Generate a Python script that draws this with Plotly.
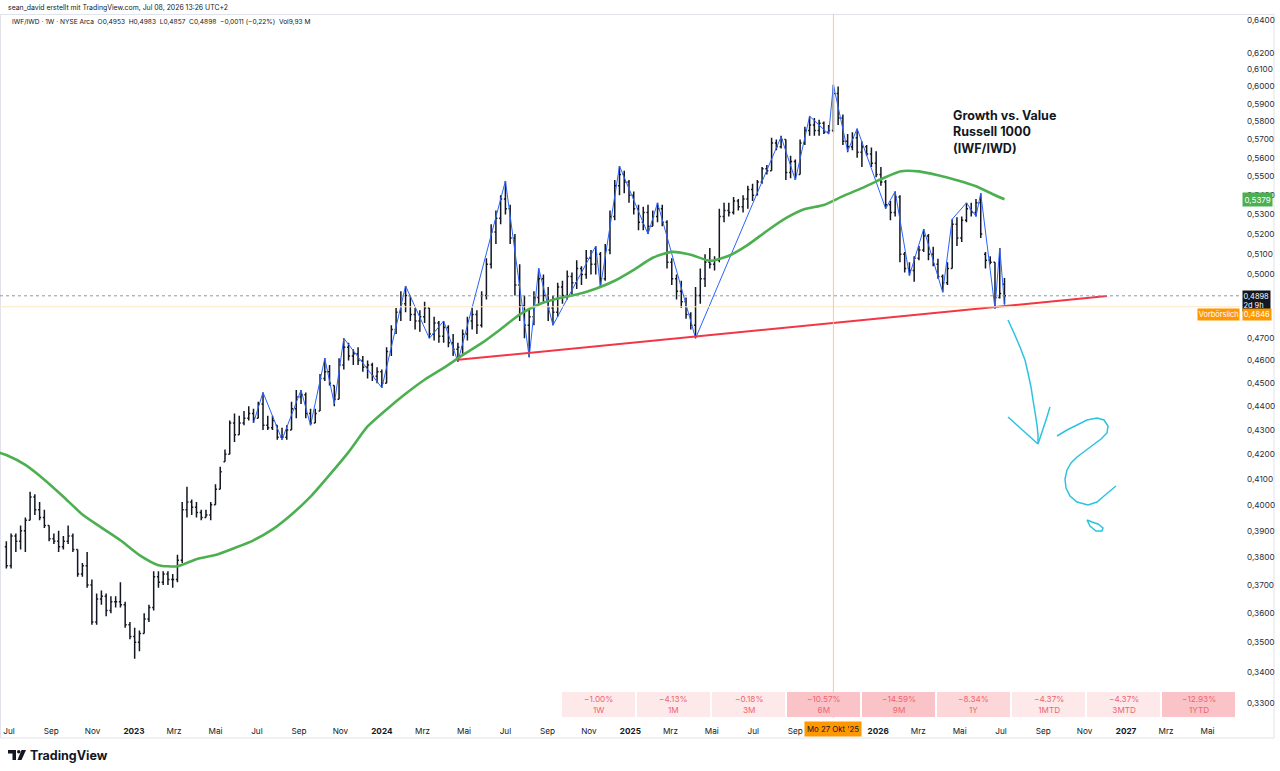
import math
import pandas as pd
import plotly.graph_objects as go

# ---------------- data (weekly IWF/IWD bars) ----------------
START_WEEK = "2022-06-27"

opens = [
    0.384, 0.377, 0.388, 0.386, 0.390, 0.394, 0.403, 0.398, 0.395, 0.392,
    0.387, 0.386, 0.384, 0.386, 0.388, 0.383, 0.374, 0.377, 0.370, 0.357,
    0.365, 0.366, 0.361, 0.364, 0.364, 0.363, 0.356, 0.352, 0.350, 0.353,
    0.358, 0.362, 0.373, 0.371, 0.374, 0.372, 0.372, 0.379, 0.398, 0.401,
    0.399, 0.397, 0.395, 0.396, 0.400, 0.406, 0.417, 0.420, 0.433, 0.428,
    0.433, 0.435, 0.437, 0.435, 0.441, 0.432, 0.431, 0.432, 0.427, 0.427,
    0.430, 0.439, 0.444, 0.445, 0.437, 0.433, 0.438, 0.452, 0.455, 0.449,
    0.443, 0.458, 0.466, 0.462, 0.463, 0.460, 0.457, 0.458, 0.453, 0.455,
    0.450, 0.464, 0.474, 0.482, 0.486, 0.490, 0.481, 0.478, 0.480, 0.484,
    0.472, 0.477, 0.471, 0.475, 0.468, 0.465, 0.466, 0.472, 0.478, 0.481,
    0.476, 0.490, 0.505, 0.521, 0.528, 0.538, 0.533, 0.518, 0.495, 0.485,
    0.476, 0.480, 0.489, 0.498, 0.490, 0.484, 0.482, 0.494, 0.490, 0.499,
    0.496, 0.503, 0.500, 0.508, 0.505, 0.510, 0.498, 0.512, 0.529, 0.545,
    0.551, 0.547, 0.540, 0.533, 0.526, 0.531, 0.524, 0.529, 0.533, 0.526,
    0.506, 0.498, 0.492, 0.487, 0.481, 0.476, 0.490, 0.498, 0.506, 0.505,
    0.507, 0.529, 0.532, 0.531, 0.537, 0.534, 0.538, 0.543, 0.540, 0.547,
    0.554, 0.553, 0.568, 0.566, 0.570, 0.552, 0.558, 0.551, 0.568, 0.575,
    0.578, 0.575, 0.579, 0.574, 0.575, 0.596, 0.582, 0.569, 0.566, 0.571,
    0.563, 0.566, 0.562, 0.557, 0.551, 0.547, 0.535, 0.531, 0.539, 0.510,
    0.503, 0.502, 0.508, 0.512, 0.519, 0.510, 0.505, 0.499, 0.496, 0.503,
    0.525, 0.518, 0.527, 0.533, 0.531, 0.536, 0.510, 0.507, 0.506, 0.489,
    0.4953,
]
highs = [
    0.386, 0.389, 0.389, 0.392, 0.395, 0.405, 0.404, 0.401, 0.398, 0.392,
    0.389, 0.390, 0.388, 0.392, 0.389, 0.383, 0.378, 0.382, 0.372, 0.367,
    0.368, 0.367, 0.366, 0.366, 0.371, 0.364, 0.357, 0.355, 0.354, 0.360,
    0.363, 0.375, 0.375, 0.375, 0.375, 0.374, 0.381, 0.401, 0.407, 0.402,
    0.401, 0.398, 0.398, 0.401, 0.408, 0.415, 0.422, 0.434, 0.437, 0.436,
    0.438, 0.440, 0.439, 0.442, 0.446, 0.436, 0.436, 0.432, 0.431, 0.432,
    0.442, 0.447, 0.447, 0.446, 0.439, 0.439, 0.454, 0.461, 0.458, 0.449,
    0.461, 0.470, 0.468, 0.465, 0.466, 0.462, 0.460, 0.459, 0.457, 0.456,
    0.466, 0.476, 0.484, 0.492, 0.4945, 0.490, 0.484, 0.483, 0.487, 0.484,
    0.480, 0.478, 0.478, 0.476, 0.472, 0.468, 0.474, 0.480, 0.484, 0.483,
    0.492, 0.508, 0.525, 0.532, 0.540, 0.5475, 0.535, 0.520, 0.505, 0.490,
    0.484, 0.492, 0.503, 0.500, 0.494, 0.490, 0.496, 0.497, 0.502, 0.501,
    0.507, 0.504, 0.512, 0.512, 0.514, 0.511, 0.515, 0.532, 0.548, 0.5555,
    0.553, 0.548, 0.542, 0.535, 0.534, 0.535, 0.532, 0.536, 0.535, 0.527,
    0.508, 0.500, 0.497, 0.489, 0.482, 0.494, 0.503, 0.510, 0.513, 0.509,
    0.533, 0.536, 0.536, 0.539, 0.538, 0.540, 0.545, 0.546, 0.548, 0.555,
    0.556, 0.571, 0.570, 0.572, 0.570, 0.561, 0.559, 0.570, 0.577, 0.583,
    0.582, 0.581, 0.580, 0.578, 0.601, 0.600, 0.584, 0.573, 0.574, 0.576,
    0.569, 0.567, 0.5655, 0.5635, 0.555, 0.548, 0.537, 0.542, 0.540, 0.511,
    0.506, 0.509, 0.514, 0.5226, 0.520, 0.5136, 0.5077, 0.500, 0.506, 0.5276,
    0.5286, 0.529, 0.536, 0.536, 0.538, 0.541, 0.511, 0.509, 0.506, 0.513,
    0.4983,
]
lows = [
    0.376, 0.376, 0.382, 0.383, 0.382, 0.394, 0.396, 0.394, 0.391, 0.386,
    0.385, 0.382, 0.383, 0.385, 0.382, 0.373, 0.373, 0.369, 0.356, 0.356,
    0.363, 0.359, 0.360, 0.362, 0.362, 0.355, 0.351, 0.3445, 0.347, 0.353,
    0.357, 0.361, 0.369, 0.370, 0.370, 0.369, 0.371, 0.378, 0.395, 0.396,
    0.395, 0.394, 0.395, 0.394, 0.400, 0.406, 0.417, 0.420, 0.425, 0.428,
    0.432, 0.434, 0.433, 0.435, 0.430, 0.430, 0.430, 0.426, 0.426, 0.426,
    0.430, 0.435, 0.441, 0.435, 0.432, 0.433, 0.438, 0.451, 0.449, 0.440,
    0.443, 0.456, 0.460, 0.458, 0.458, 0.455, 0.452, 0.451, 0.450, 0.448,
    0.450, 0.462, 0.472, 0.478, 0.482, 0.478, 0.474, 0.473, 0.477, 0.470,
    0.469, 0.468, 0.468, 0.466, 0.462, 0.4595, 0.463, 0.469, 0.474, 0.472,
    0.475, 0.488, 0.503, 0.515, 0.525, 0.530, 0.515, 0.490, 0.478, 0.470,
    0.4615, 0.476, 0.486, 0.487, 0.478, 0.476, 0.480, 0.486, 0.488, 0.490,
    0.493, 0.495, 0.498, 0.500, 0.500, 0.494, 0.497, 0.510, 0.527, 0.540,
    0.541, 0.536, 0.530, 0.522, 0.522, 0.520, 0.524, 0.526, 0.524, 0.503,
    0.495, 0.488, 0.484, 0.479, 0.474, 0.470, 0.486, 0.494, 0.503, 0.502,
    0.506, 0.526, 0.529, 0.530, 0.532, 0.531, 0.533, 0.537, 0.540, 0.546,
    0.551, 0.553, 0.564, 0.565, 0.548, 0.549, 0.548, 0.551, 0.567, 0.572,
    0.572, 0.572, 0.573, 0.573, 0.574, 0.578, 0.567, 0.563, 0.564, 0.560,
    0.555, 0.561, 0.555, 0.5495, 0.545, 0.533, 0.527, 0.529, 0.506, 0.501,
    0.4995, 0.4965, 0.507, 0.511, 0.507, 0.504, 0.498, 0.4915, 0.495, 0.503,
    0.514, 0.516, 0.526, 0.529, 0.529, 0.518, 0.503, 0.505, 0.4838, 0.4885,
    0.4857,
]
closes = [
    0.377, 0.388, 0.386, 0.390, 0.394, 0.403, 0.398, 0.395, 0.392, 0.387,
    0.386, 0.384, 0.386, 0.388, 0.383, 0.374, 0.377, 0.370, 0.357, 0.365,
    0.366, 0.361, 0.364, 0.364, 0.363, 0.356, 0.352, 0.350, 0.353, 0.358,
    0.362, 0.373, 0.371, 0.374, 0.372, 0.372, 0.379, 0.398, 0.401, 0.399,
    0.397, 0.395, 0.396, 0.400, 0.406, 0.413, 0.420, 0.433, 0.428, 0.433,
    0.435, 0.437, 0.435, 0.441, 0.432, 0.431, 0.434, 0.427, 0.427, 0.430,
    0.439, 0.444, 0.445, 0.437, 0.433, 0.437, 0.452, 0.455, 0.450, 0.443,
    0.458, 0.466, 0.462, 0.463, 0.460, 0.457, 0.458, 0.453, 0.455, 0.450,
    0.464, 0.474, 0.482, 0.486, 0.490, 0.481, 0.478, 0.480, 0.484, 0.472,
    0.477, 0.471, 0.475, 0.468, 0.465, 0.466, 0.472, 0.478, 0.481, 0.476,
    0.490, 0.505, 0.521, 0.528, 0.538, 0.533, 0.518, 0.495, 0.485, 0.476,
    0.480, 0.489, 0.498, 0.490, 0.484, 0.482, 0.494, 0.490, 0.499, 0.496,
    0.503, 0.500, 0.508, 0.505, 0.510, 0.498, 0.512, 0.529, 0.545, 0.551,
    0.547, 0.540, 0.533, 0.526, 0.531, 0.524, 0.529, 0.533, 0.526, 0.506,
    0.498, 0.492, 0.487, 0.481, 0.476, 0.490, 0.498, 0.506, 0.505, 0.507,
    0.529, 0.532, 0.531, 0.537, 0.534, 0.538, 0.543, 0.540, 0.547, 0.554,
    0.553, 0.568, 0.566, 0.570, 0.552, 0.558, 0.551, 0.568, 0.575, 0.578,
    0.575, 0.579, 0.574, 0.575, 0.596, 0.582, 0.569, 0.566, 0.571, 0.563,
    0.566, 0.562, 0.557, 0.551, 0.547, 0.535, 0.531, 0.539, 0.510, 0.503,
    0.502, 0.508, 0.512, 0.519, 0.510, 0.505, 0.499, 0.496, 0.503, 0.525,
    0.518, 0.527, 0.533, 0.531, 0.536, 0.520, 0.507, 0.506, 0.489, 0.4909,
    0.4898,
]

# green moving average (read at week offsets from START_WEEK)
ma_weeks = [-2, 0, 4, 8, 12, 16, 20, 24, 28, 32, 36, 40, 44, 48, 52, 56, 60, 64,
            68, 72, 76, 80, 84, 88, 92, 96, 100, 104, 108, 112, 116, 120, 124,
            128, 132, 136, 140, 144, 148, 152, 156, 160, 164, 168, 172, 176, 180,
            184, 188, 192, 196, 200, 204, 208, 210]
ma_values = [0.4210, 0.4197, 0.4157, 0.4098, 0.4031, 0.3962, 0.3912, 0.3864,
             0.3809, 0.3772, 0.3768, 0.3794, 0.3809, 0.3835, 0.3864, 0.3905,
             0.3962, 0.4031, 0.4117, 0.4209, 0.4315, 0.4387, 0.4454, 0.4515,
             0.4567, 0.4624, 0.4678, 0.4742, 0.4810, 0.4857, 0.4885, 0.4904,
             0.4932, 0.4970, 0.5023, 0.5082, 0.5111, 0.5097, 0.5067, 0.5092,
             0.5146, 0.5216, 0.5281, 0.5328, 0.5349, 0.5395, 0.5437, 0.5484,
             0.5526, 0.5526, 0.5505, 0.5479, 0.5447, 0.5400, 0.5379]

# blue zigzag pivots
zz_weeks = [52, 54, 58, 62, 64, 67, 69, 71, 79, 84, 89, 92, 95, 105, 110, 112,
            115, 124, 125, 129, 135, 137, 145, 163, 166, 169, 173, 174, 177,
            179, 185, 187, 190, 193, 197, 199, 202, 204, 205, 208, 209, 210]
zz_prices = [0.433, 0.446, 0.426, 0.447, 0.432, 0.461, 0.441, 0.470, 0.448,
             0.4945, 0.470, 0.478, 0.4595, 0.5475, 0.4615, 0.503, 0.476, 0.514,
             0.494, 0.5555, 0.520, 0.536, 0.470, 0.5715, 0.548, 0.583, 0.573,
             0.601, 0.5635, 0.576, 0.533, 0.542, 0.4995, 0.5226, 0.4915,
             0.5276, 0.536, 0.529, 0.541, 0.4838, 0.513, 0.4857]

# red support trend line
trend_dates = ["2024-04-22", "2026-12-04"]
trend_prices = [0.4603, 0.4897]

# price axis ticks (0,4800 / 0,4900 sit under the price labels in the reference)
y_ticks = [0.33, 0.34, 0.35, 0.36, 0.37, 0.38, 0.39, 0.40, 0.41, 0.42, 0.43,
           0.44, 0.45, 0.46, 0.47, 0.50, 0.51, 0.52, 0.53, 0.54,
           0.55, 0.56, 0.57, 0.58, 0.59, 0.60, 0.61, 0.62, 0.64]

# time axis ticks
x_tick_dates = ["2022-07-01", "2022-09-01", "2022-11-01", "2023-01-01", "2023-03-01",
                "2023-05-01", "2023-07-01", "2023-09-01", "2023-11-01", "2024-01-01",
                "2024-03-01", "2024-05-01", "2024-07-01", "2024-09-01", "2024-11-01",
                "2025-01-01", "2025-03-01", "2025-05-01", "2025-07-01", "2025-09-01",
                "2026-01-01", "2026-03-01", "2026-05-01", "2026-07-01", "2026-09-01",
                "2026-11-01", "2027-01-01", "2027-03-01", "2027-05-01"]
x_tick_labels = ["Jul", "Sep", "Nov", "<b>2023</b>", "Mrz", "Mai", "Jul", "Sep", "Nov",
                 "<b>2024</b>", "Mrz", "Mai", "Jul", "Sep", "Nov", "<b>2025</b>", "Mrz",
                 "Mai", "Jul", "Sep", "<b>2026</b>", "Mrz", "Mai", "Jul", "Sep", "Nov",
                 "<b>2027</b>", "Mrz", "Mai"]

# performance table
perf_labels = ["1W", "1M", "3M", "6M", "9M", "1Y", "1MTD", "3MTD", "1YTD"]
perf_values = [-1.00, -4.13, -0.18, -10.57, -14.59, -8.34, -4.37, -4.37, -12.93]

last_price = 0.4898
premarket_price = 0.4846
ma_last = 0.5379
crosshair_date = "2025-10-27"

# ---------------- layout geometry ----------------
W, H = 1280, 771
PL, PT, PW, PH = 0, 14, 1240, 704
Y0, Y1 = -0.48781, -0.19129
X_RANGE = ["2022-06-17 16:00", "2027-06-17 20:00"]
FONT = "Inter, Roboto, 'Noto Sans', sans-serif"
TXT = "#131722"


def px(x):
    return (x - PL) / PW


def py(y):
    return 1 - (y - PT) / PH


def pv(v):
    return (math.log10(v) - Y0) / (Y1 - Y0)


def path_from(points, close=False):
    s = "M " + " L ".join(f"{px(x):.5f},{py(y):.5f}" for x, y in points)
    return s + (" Z" if close else "")


start = pd.Timestamp(START_WEEK)
dates = [start + pd.Timedelta(weeks=i) for i in range(len(closes))]
ma_dates = [start + pd.Timedelta(weeks=w) for w in ma_weeks]
zz_dates = [start + pd.Timedelta(weeks=w) for w in zz_weeks]

fig = go.Figure()

fig.add_trace(go.Ohlc(
    x=dates, open=opens, high=highs, low=lows, close=closes,
    increasing=dict(line=dict(color=TXT, width=1.5)),
    decreasing=dict(line=dict(color=TXT, width=1.5)),
    tickwidth=0.32, hoverinfo="skip", showlegend=False))

fig.add_trace(go.Scatter(x=zz_dates, y=zz_prices, mode="lines",
                         line=dict(color="#2962ff", width=1), hoverinfo="skip"))

fig.add_trace(go.Scatter(x=ma_dates, y=ma_values, mode="lines",
                         line=dict(color="#4caf50", width=2.6, shape="spline", smoothing=0.6),
                         hoverinfo="skip"))

fig.add_trace(go.Scatter(x=trend_dates, y=trend_prices, mode="lines",
                         line=dict(color="#f23645", width=2), hoverinfo="skip"))

shapes = []
# chart border
shapes.append(dict(type="rect", xref="paper", yref="paper", x0=px(0.5), x1=px(1274),
                   y0=py(738), y1=py(14.5), line=dict(color="#e0e3eb", width=1),
                   layer="below"))
# last price dotted line and premarket line
shapes.append(dict(type="line", xref="paper", yref="paper", x0=0, x1=1,
                   y0=pv(last_price), y1=pv(last_price),
                   line=dict(color="#9598a1", width=1, dash="dot")))
shapes.append(dict(type="line", xref="paper", yref="paper", x0=0, x1=1,
                   y0=pv(premarket_price), y1=pv(premarket_price),
                   line=dict(color="#fde6c4", width=1)))
# crosshair
shapes.append(dict(type="line", xref="x", yref="paper", x0=crosshair_date,
                   x1=crosshair_date, y0=0, y1=1,
                   line=dict(color="#f9c88e", width=1)))

# performance boxes
box_x0, box_step, box_w = 562, 75, 73
for k, (lab, val) in enumerate(zip(perf_labels, perf_values)):
    mag = abs(val)
    col = "#fac3c7" if mag >= 10 else ("#fcd6d9" if mag >= 6 else "#fde8ea")
    x0 = box_x0 + k * box_step
    shapes.append(dict(type="rect", xref="paper", yref="paper", x0=px(x0), x1=px(x0 + box_w),
                       y0=py(717), y1=py(692), line=dict(width=0), fillcolor=col))

# cyan hand drawing
cyan = "#2bc4de"
arrow_shaft = [(1008, 320), (1014, 333), (1020, 347), (1025, 360), (1028, 373),
               (1031, 387), (1033, 400), (1035, 412), (1037, 425), (1038, 435), (1038, 444)]
arrow_left = [(1008, 417), (1018, 426), (1028, 435), (1038, 444)]
arrow_right = [(1050, 407), (1046, 420), (1042, 432), (1038, 444)]
question = [(1057, 436), (1067, 430), (1077, 425), (1087, 420), (1097, 418), (1104, 420),
            (1108, 426), (1107, 433), (1101, 439), (1093, 445), (1085, 451), (1077, 457),
            (1071, 463), (1067, 470), (1065, 479), (1066, 488), (1070, 496), (1077, 502),
            (1088, 505), (1097, 502), (1104, 496), (1110, 491), (1116, 486)]
qdot = [(1087, 520), (1090, 526), (1096, 531), (1102, 531), (1103, 528), (1098, 524),
        (1092, 522), (1087, 520)]
for pts in (arrow_shaft, arrow_left, arrow_right, question, qdot):
    shapes.append(dict(type="path", xref="paper", yref="paper", path=path_from(pts),
                       line=dict(color=cyan, width=1.5)))

# TradingView logo glyph
shapes.append(dict(type="path", xref="paper", yref="paper",
                   path=path_from([(8, 750), (16, 750), (16, 760), (12.5, 760), (12.5, 753.5),
                                   (8, 753.5)], close=True),
                   fillcolor=TXT, line=dict(width=0)))
shapes.append(dict(type="circle", xref="paper", yref="paper", x0=px(17), x1=px(20.5),
                   y0=py(753.5), y1=py(750), fillcolor=TXT, line=dict(width=0)))
shapes.append(dict(type="path", xref="paper", yref="paper",
                   path=path_from([(21.5, 750), (26, 750), (21.5, 760), (17.5, 760)], close=True),
                   fillcolor=TXT, line=dict(width=0)))

annotations = []
annotations.append(dict(xref="paper", yref="paper", x=px(6), y=py(8), xanchor="left",
                        yanchor="middle", showarrow=False,
                        text="sean_david erstellt mit TradingView.com, Jul 08, 2026 13:26 UTC+2",
                        font=dict(size=6.9, color=TXT, family=FONT)))
annotations.append(dict(xref="paper", yref="paper", x=px(10), y=py(22), xanchor="left",
                        yanchor="middle", showarrow=False,
                        text="IWF/IWD · 1W · NYSE Arca  O0,4953  H0,4983  L0,4857  C0,4898  "
                             "−0,0011 (−0,22%)  Vol9,93 M",
                        font=dict(size=6.6, color=TXT, family=FONT)))
annotations.append(dict(xref="paper", yref="paper", x=px(951), y=py(132), xanchor="left",
                        yanchor="middle", showarrow=False, align="left",
                        text="<b>Growth vs. Value<br>Russell 1000<br>(IWF/IWD)</b>",
                        font=dict(size=12.5, color=TXT, family=FONT)))

for k, (lab, val) in enumerate(zip(perf_labels, perf_values)):
    x0 = box_x0 + k * box_step
    annotations.append(dict(xref="paper", yref="paper", x=px(x0 + box_w / 2), y=py(704.5),
                            xanchor="center", yanchor="middle", showarrow=False,
                            text=f"{val:.2f}%".replace("-", "−") + "<br>" + lab,
                            font=dict(size=8.2, color="#f0646f", family=FONT)))

# price labels on the scale
annotations.append(dict(xref="paper", yref="paper", x=px(1242), y=pv(ma_last),
                        xanchor="left", yanchor="middle", showarrow=False,
                        text=f"{ma_last:.4f}".replace(".", ","), bgcolor="#4caf50",
                        borderpad=1.5, font=dict(size=8, color="white", family=FONT)))
annotations.append(dict(xref="paper", yref="paper", x=px(1242), y=py(290),
                        xanchor="left", yanchor="top", showarrow=False,
                        text=f"{last_price:.4f}".replace(".", ",") + "<br>2d 9h",
                        bgcolor=TXT, borderpad=0.5, align="left",
                        font=dict(size=7.4, color="white", family=FONT)))
annotations.append(dict(xref="paper", yref="paper", x=px(1242), y=py(314),
                        xanchor="left", yanchor="middle", showarrow=False,
                        text=f"{premarket_price:.4f}".replace(".", ","), bgcolor="#ff9800",
                        borderpad=0.8, font=dict(size=7.6, color="white", family=FONT)))
annotations.append(dict(xref="paper", yref="paper", x=px(1240), y=py(314),
                        xanchor="right", yanchor="middle", showarrow=False,
                        text="Vorbörslich", bgcolor="#ff9800",
                        borderpad=0.8, font=dict(size=7.4, color="white", family=FONT)))
annotations.append(dict(xref="x", yref="paper", x=crosshair_date, y=py(729),
                        xanchor="center", yanchor="middle", showarrow=False,
                        text="Mo 27 Okt '25", bgcolor="#ff9800", borderpad=2,
                        font=dict(size=7.8, color=TXT, family=FONT)))
annotations.append(dict(xref="paper", yref="paper", x=px(28), y=py(755), xanchor="left",
                        yanchor="middle", showarrow=False, text="<b>TradingView</b>",
                        font=dict(size=12.5, color=TXT, family=FONT)))

fig.update_layout(
    width=W, height=H,
    margin=dict(l=PL, r=W - PL - PW, t=PT, b=H - PT - PH),
    paper_bgcolor="white", plot_bgcolor="white",
    showlegend=False, hovermode=False,
    font=dict(family=FONT, size=8.5, color=TXT),
    shapes=shapes, annotations=annotations,
    xaxis=dict(type="date", range=X_RANGE, tickvals=x_tick_dates, ticktext=x_tick_labels,
               showgrid=False, zeroline=False, showline=False, ticks="",
               ticklabelstandoff=7,
               rangeslider=dict(visible=False), fixedrange=True,
               tickfont=dict(size=8.2, color=TXT, family=FONT)),
    yaxis=dict(type="log", side="right", range=[Y0, Y1], tickvals=y_ticks,
               ticktext=[f"{v:.4f}".replace(".", ",") for v in y_ticks],
               showgrid=False, zeroline=False, showline=False, ticks="",
               ticklabelstandoff=6, fixedrange=True,
               tickfont=dict(size=8.2, color="#2a2e39", family=FONT)),
)

fig.write_html("out.html")
